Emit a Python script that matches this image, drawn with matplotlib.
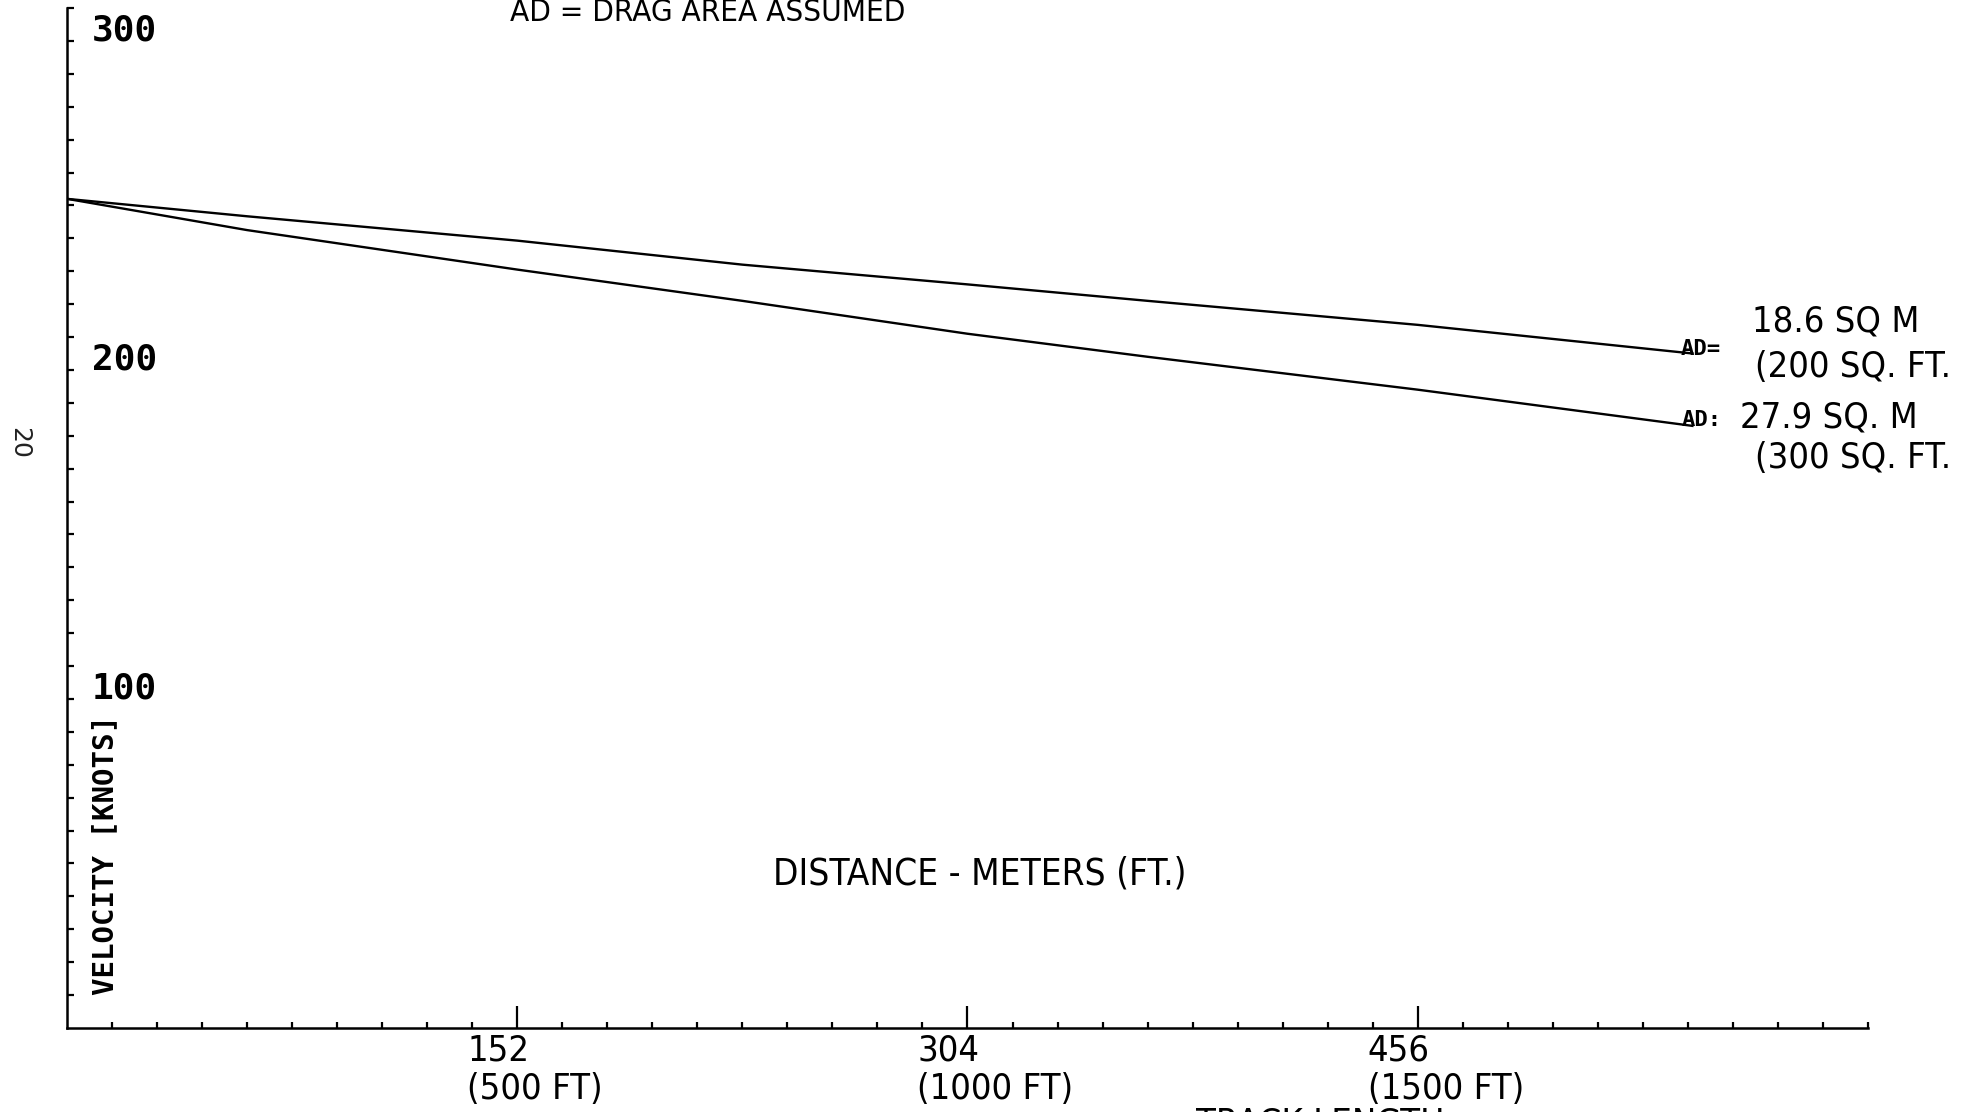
import matplotlib.pyplot as plt
import numpy as np
from matplotlib import font_manager as fm

# arresting run: velocity vs. distance for two drag areas
distance_ft = [0, 200, 500, 750, 1000, 1200, 1500, 1805]
vel_200sqft = [252, 246.7, 239.3, 232, 226, 221, 213.7, 205]
vel_300sqft = [252, 242.5, 230.5, 221, 211, 204, 194, 183]

x_major = [500, 1000, 1500]
x_lab_m = ['152', '304', '456']
x_lab_ft = ['(500 FT)', '(1000 FT)', '(1500 FT)']

y_lab_val = [100, 200, 300]
y_lab_txt = ['100', '200', '300']

# use a condensed face when one is installed, else a smaller plain one
cond_path = fm.findfont(fm.FontProperties(family='DejaVu Sans', stretch='condensed'))
if 'Condensed' in cond_path:
    narrow = dict(family='DejaVu Sans', fontstretch='condensed')
    fs = 26
else:
    narrow = dict(family='DejaVu Sans')
    fs = 23
mono = ['DejaVu Sans Mono', 'DejaVu Sans']

W, H = 1974, 1112
fig = plt.figure(figsize=(W / 100, H / 100), dpi=100)
ax = fig.add_axes([67 / W, 84 / H, 1801 / W, 1020 / H])

ax.plot(distance_ft, vel_200sqft, color='black', lw=1.7)
ax.plot(distance_ft, vel_300sqft, color='black', lw=1.7)

ax.set_xlim(0, 2000)
ax.set_ylim(0, 310)
for s in ['top', 'right']:
    ax.spines[s].set_visible(False)
for s in ['left', 'bottom']:
    ax.spines[s].set_linewidth(1.8)

ax.set_xticks(x_major)
ax.set_xticks(np.arange(50, 2001, 50), minor=True)
ax.set_yticks(np.arange(10, 311, 10))
ax.tick_params(axis='x', which='major', direction='in', length=16, width=1.6, labelbottom=False)
ax.tick_params(axis='x', which='minor', direction='in', length=4, width=1.6)
ax.tick_params(axis='y', direction='in', length=5, width=1.6, labelleft=False)

# two-line distance labels, metres over feet
for x, m, ft in zip(x_major, x_lab_m, x_lab_ft):
    ax.annotate(m, xy=(x, 0), xytext=(-36, -4), textcoords='offset points',
                ha='left', va='top', fontsize=fs, **narrow)
    ax.annotate(ft, xy=(x, 0), xytext=(-36, -32), textcoords='offset points',
                ha='left', va='top', fontsize=fs, **narrow)

for v, t in zip(y_lab_val, y_lab_txt):
    ax.annotate(t, xy=(0, v), xytext=(18, 0), textcoords='offset points',
                ha='left', va='baseline', family=mono, fontsize=26, fontweight='bold')

fig.text(105 / W, 1 - 855 / H, 'VELOCITY [KNOTS]', rotation=90, ha='center', va='center',
         family=mono, fontsize=21, fontweight='bold')
fig.text(980 / W, 1 - 874 / H, 'DISTANCE - METERS (FT.)', ha='center', va='center',
         fontsize=fs + 0.5, **narrow)
fig.text(510 / W, 1 - 21 / H, 'AD = DRAG AREA ASSUMED', ha='left', va='baseline',
         fontsize=fs - 3.5, **narrow)
fig.text(1196 / W, 1 - 1107 / H, 'TRACK LENGTH', ha='left', va='top', fontsize=fs, **narrow)
fig.text(19 / W, 1 - 443 / H, '20', rotation=270, ha='center', va='center',
         fontsize=18, color='#222222')

# curve end labels
fig.text(1681 / W, 1 - 349 / H, 'AD=', ha='left', va='center', family=mono, fontsize=16, fontweight='bold')
fig.text(1682 / W, 1 - 420 / H, 'AD:', ha='left', va='center', family=mono, fontsize=16, fontweight='bold')
fig.text(1752 / W, 1 - 322 / H, '18.6 SQ M', ha='left', va='center', fontsize=fs, **narrow)
fig.text(1755 / W, 1 - 367 / H, '(200 SQ. FT.', ha='left', va='center', fontsize=fs, **narrow)
fig.text(1740 / W, 1 - 417 / H, '27.9 SQ. M', ha='left', va='center', fontsize=fs, **narrow)
fig.text(1755 / W, 1 - 458 / H, '(300 SQ. FT.', ha='left', va='center', fontsize=fs, **narrow)

fig.savefig('out.png', dpi=100)
